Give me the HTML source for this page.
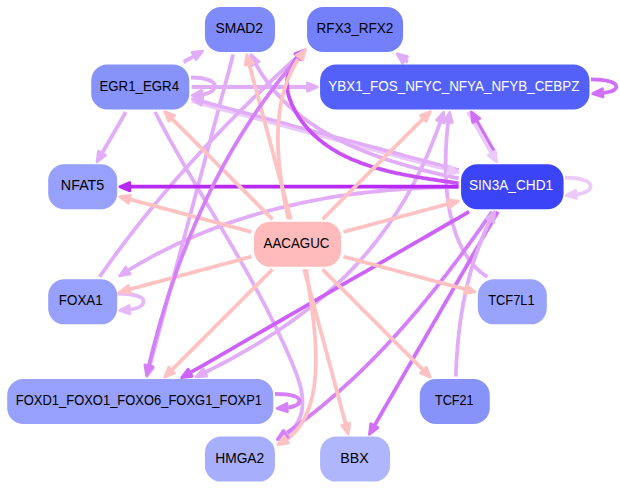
<!DOCTYPE html>
<html><head><meta charset="utf-8"><style>
html,body{margin:0;padding:0;background:#fff;width:620px;height:489px;overflow:hidden}
svg{display:block}
text{font-family:"Liberation Sans",sans-serif;font-size:14px}
</style></head><body>
<svg width="620" height="489" viewBox="0 0 620 489">
<rect width="620" height="489" fill="#fff"/>
<path d="M191.7,87.0 L192.7,87.0 L199.2,87.0 L205.8,87.0 L212.3,87.0 L218.9,87.0 L225.4,87.0 L232.0,87.0 L238.5,87.0 L245.1,87.0 L251.6,87.0 L258.2,87.0 L264.7,87.0 L271.3,87.0 L277.8,87.0 L284.4,87.0 L290.9,87.0 L297.5,87.0 L304.1,87.0 L310.6,87.0 L311.7,87.0" fill="none" stroke="#e2adf8" stroke-width="3.8" stroke-linejoin="round"/>
<path d="M183.5,62.0 L183.9,61.9 L185.9,60.7 L188.0,59.5 L190.1,58.3 L192.2,57.1 L194.2,55.9 L196.3,54.7 L197.7,53.8" fill="none" stroke="#e2adf8" stroke-width="3.8" stroke-linejoin="round"/>
<path d="M125.8,112.0 L124.7,114.0 L123.5,116.1 L122.3,118.2 L121.1,120.3 L119.9,122.4 L118.7,124.4 L117.5,126.5 L116.3,128.6 L115.1,130.7 L113.9,132.7 L112.7,134.8 L111.5,136.9 L110.3,139.0 L109.1,141.0 L107.9,143.1 L106.7,145.2 L105.5,147.3 L104.3,149.4 L103.1,151.4 L101.9,153.5 L100.7,155.6 L99.9,157.0" fill="none" stroke="#e2adf8" stroke-width="3.8" stroke-linejoin="round"/>
<path d="M233.2,54.5 L231.6,60.5 L229.6,68.2 L227.5,76.0 L225.4,83.7 L223.3,91.5 L221.2,99.2 L219.2,107.0 L217.1,114.7 L215.0,122.5 L212.9,130.3 L210.9,138.0 L208.8,145.8 L206.7,153.5 L204.6,161.3 L202.6,169.0 L200.5,176.8 L198.4,184.5 L196.3,192.3 L194.2,200.0 L192.2,207.8 L190.1,215.5 L188.0,223.3 L185.9,231.0 L183.9,238.8 L181.8,246.5 L179.7,254.3 L177.6,262.0 L175.6,269.8 L173.5,277.5 L171.4,285.3 L169.3,293.0 L167.2,300.8 L165.2,308.5 L163.1,316.3 L161.0,324.0 L158.9,331.8 L156.9,339.5 L154.8,347.3 L152.7,355.1 L150.6,362.8 L148.5,370.6 L148.4,370.9" fill="none" stroke="#e2adf8" stroke-width="3.8" stroke-linejoin="round"/>
<path d="M191.7,101.3 L194.8,102.1 L200.4,103.6 L206.1,105.1 L211.7,106.7 L217.4,108.2 L223.1,109.7 L228.7,111.2 L234.4,112.7 L240.0,114.2 L245.7,115.7 L251.3,117.3 L257.0,118.8 L262.7,120.3 L268.3,121.8 L274.0,123.3 L279.6,124.8 L285.3,126.3 L290.9,127.9 L296.6,129.4 L302.3,130.9 L307.9,132.4 L313.6,133.9 L319.2,135.4 L324.9,136.9 L330.6,138.5 L336.2,140.0 L341.9,141.5 L347.5,143.0 L353.2,144.5 L358.9,146.0 L364.5,147.6 L370.2,149.1 L375.8,150.6 L381.5,152.1 L387.1,153.6 L392.8,155.1 L398.5,156.6 L404.1,158.2 L409.8,159.7 L415.4,161.2 L421.1,162.7 L426.8,164.2 L432.4,165.7 L438.1,167.2 L443.7,168.8 L449.4,170.3 L452.6,171.1" fill="none" stroke="#ecc9fb" stroke-width="3.6" stroke-linejoin="round"/>
<path d="M458.6,170.0 L455.6,169.2 L450.0,167.7 L444.3,166.2 L438.7,164.6 L433.0,163.1 L427.4,161.6 L421.7,160.1 L416.0,158.6 L410.4,157.1 L404.7,155.6 L399.1,154.0 L393.4,152.5 L387.7,151.0 L382.1,149.5 L376.4,148.0 L370.8,146.5 L365.1,145.0 L359.4,143.4 L353.8,141.9 L348.1,140.4 L342.5,138.9 L336.8,137.4 L331.2,135.9 L325.5,134.3 L319.8,132.8 L314.2,131.3 L308.5,129.8 L302.9,128.3 L297.2,126.8 L291.6,125.3 L285.9,123.7 L280.2,122.2 L274.6,120.7 L268.9,119.2 L263.3,117.7 L257.6,116.2 L251.9,114.7 L246.3,113.1 L240.6,111.6 L235.0,110.1 L229.3,108.6 L223.6,107.1 L218.0,105.6 L212.3,104.1 L206.7,102.5 L201.0,101.0 L197.8,100.2" fill="none" stroke="#e2adf8" stroke-width="3.4" stroke-linejoin="round"/>
<path d="M407.9,62.0 L407.5,61.8 L406.9,61.3 L406.2,60.8 L405.6,60.3 L405.0,59.9 L404.4,59.4 L403.8,58.9 L403.1,58.4 L402.5,58.0 L401.9,57.5 L401.7,57.4" fill="none" stroke="#e2adf8" stroke-width="3.8" stroke-linejoin="round"/>
<path d="M495.5,153.9 L494.6,152.4 L493.4,150.3 L492.2,148.2 L491.0,146.2 L489.8,144.1 L488.6,142.0 L487.4,139.9 L486.2,137.8 L485.0,135.8 L483.9,133.7 L482.7,131.6 L481.5,129.5 L480.3,127.4 L479.1,125.3 L477.9,123.2 L476.7,121.2 L475.5,119.1 L474.3,117.0 L474.2,116.8" fill="none" stroke="#d070f8" stroke-width="3.8" stroke-linejoin="round"/>
<path d="M468.0,112.0 L468.1,112.2 L469.3,114.3 L470.5,116.4 L471.7,118.5 L472.9,120.6 L474.1,122.7 L475.3,124.8 L476.5,126.8 L477.7,128.9 L478.9,131.0 L480.1,133.1 L481.3,135.2 L482.4,137.2 L483.6,139.3 L484.8,141.4 L486.0,143.5 L487.2,145.6 L488.4,147.7 L489.6,149.8 L490.8,151.8 L492.0,153.9 L493.2,156.0 L493.8,157.0" fill="none" stroke="#ecc9fb" stroke-width="3.8" stroke-linejoin="round"/>
<path d="M458.6,178.4 L457.9,178.2 L454.9,177.6 L451.8,176.9 L448.7,176.2 L445.6,175.5 L442.5,174.8 L439.4,174.1 L436.3,173.4 L433.2,172.6 L430.1,171.9 L427.0,171.1 L423.9,170.3 L420.7,169.5 L417.6,168.7 L414.5,167.8 L411.4,167.0 L408.3,166.1 L405.2,165.2 L402.1,164.3 L399.0,163.4 L395.9,162.4 L392.8,161.5 L389.7,160.5 L386.6,159.5 L383.6,158.4 L380.5,157.4 L377.4,156.3 L374.4,155.2 L371.4,154.1 L368.4,152.9 L365.4,151.8 L362.4,150.6 L359.4,149.3 L356.4,148.1 L353.5,146.8 L350.6,145.5 L347.7,144.2 L344.8,142.8 L341.9,141.4 L339.1,140.0 L336.2,138.5 L333.4,137.0 L330.6,135.5 L327.9,134.0 L325.1,132.4 L322.4,130.8 L319.7,129.1 L317.0,127.4 L314.4,125.7 L311.8,124.0 L309.2,122.2 L306.6,120.3 L304.1,118.5 L301.6,116.6 L299.1,114.6 L296.7,112.7 L294.3,110.7 L291.9,108.6 L289.6,106.5 L287.3,104.4 L285.0,102.2 L282.8,100.0 L280.6,97.7 L278.5,95.4 L276.4,93.1 L274.3,90.7 L272.3,88.2 L270.3,85.8 L268.3,83.2 L266.4,80.7 L264.5,78.0 L262.7,75.4 L260.9,72.7 L259.2,69.9 L257.5,67.1 L255.9,64.2 L254.3,61.3 L253.5,59.8" fill="none" stroke="#e2adf8" stroke-width="3.8" stroke-linejoin="round"/>
<path d="M458.6,187.1 L456.5,187.1 L452.0,187.2 L447.5,187.2 L443.0,187.3 L438.4,187.4 L433.9,187.5 L429.4,187.7 L424.9,187.9 L420.4,188.1 L415.9,188.3 L411.4,188.6 L406.9,188.8 L402.4,189.1 L397.9,189.5 L393.4,189.8 L388.9,190.2 L384.4,190.6 L379.9,191.0 L375.4,191.5 L370.9,191.9 L366.4,192.4 L362.0,193.0 L357.5,193.5 L353.0,194.1 L348.6,194.7 L344.1,195.4 L339.6,196.0 L335.2,196.7 L330.7,197.4 L326.3,198.2 L321.9,199.0 L317.4,199.8 L313.0,200.6 L308.6,201.5 L304.2,202.4 L299.8,203.3 L295.4,204.3 L291.0,205.3 L286.7,206.3 L282.3,207.3 L277.9,208.4 L273.6,209.5 L269.3,210.7 L264.9,211.8 L260.6,213.0 L256.3,214.3 L252.0,215.6 L247.7,216.9 L243.4,218.2 L239.2,219.6 L234.9,221.0 L230.7,222.4 L226.4,223.9 L222.2,225.4 L218.0,226.9 L213.8,228.5 L209.6,230.1 L205.4,231.8 L201.3,233.4 L197.1,235.2 L193.0,236.9 L188.9,238.7 L184.8,240.5 L180.7,242.4 L176.6,244.3 L172.5,246.2 L168.5,248.2 L164.4,250.2 L160.4,252.2 L156.4,254.3 L152.4,256.4 L148.5,258.6 L144.5,260.8 L140.6,263.0 L136.6,265.3 L132.7,267.6 L128.9,270.0 L125.0,272.4 L124.4,272.8" fill="none" stroke="#e2adf8" stroke-width="3.8" stroke-linejoin="round"/>
<path d="M487.2,276.9 L487.2,276.9 L485.4,275.6 L483.6,274.4 L482.0,273.1 L480.3,271.7 L478.7,270.3 L477.2,268.8 L475.7,267.3 L474.2,265.8 L472.8,264.2 L471.4,262.5 L470.1,260.8 L468.8,259.1 L467.5,257.3 L466.3,255.5 L465.2,253.6 L464.0,251.7 L463.0,249.8 L461.9,247.8 L460.9,245.8 L459.9,243.8 L459.0,241.7 L458.1,239.6 L457.2,237.5 L456.4,235.4 L455.6,233.2 L454.9,231.0 L454.2,228.8 L453.5,226.5 L452.8,224.2 L452.2,222.0 L451.6,219.6 L451.1,217.3 L450.5,215.0 L450.0,212.6 L449.6,210.2 L449.1,207.8 L448.7,205.4 L448.4,203.0 L448.0,200.6 L447.7,198.2 L447.4,195.7 L447.1,193.3 L446.9,190.8 L446.6,188.4 L446.4,185.9 L446.3,183.5 L446.1,181.0 L446.0,178.5 L445.9,176.1 L445.8,173.6 L445.7,171.2 L445.7,168.7 L445.6,166.3 L445.6,163.9 L445.6,161.5 L445.7,159.1 L445.7,156.7 L445.8,154.3 L445.9,151.9 L445.9,149.6 L446.1,147.2 L446.2,144.9 L446.3,142.6 L446.5,140.4 L446.6,138.1 L446.8,135.9 L447.0,133.7 L447.2,131.5 L447.4,129.3 L447.6,127.2 L447.9,125.1 L448.1,123.0 L448.4,121.0 L448.6,119.0 L448.8,117.9" fill="none" stroke="#e2adf8" stroke-width="3.8" stroke-linejoin="round"/>
<path d="M441.8,117.5 L441.1,119.5 L439.4,124.5 L437.6,129.3 L435.8,134.2 L434.0,138.9 L432.1,143.6 L430.2,148.3 L428.3,152.9 L426.3,157.4 L424.2,161.9 L422.2,166.4 L420.1,170.8 L417.9,175.1 L415.8,179.4 L413.6,183.6 L411.3,187.8 L409.0,192.0 L406.7,196.1 L404.4,200.1 L402.0,204.1 L399.5,208.1 L397.0,212.0 L394.5,215.9 L392.0,219.7 L389.4,223.5 L386.8,227.2 L384.1,230.9 L381.4,234.5 L378.7,238.2 L375.9,241.7 L373.1,245.2 L370.3,248.7 L367.4,252.2 L364.5,255.6 L361.5,259.0 L358.5,262.3 L355.5,265.6 L352.4,268.9 L349.3,272.1 L346.2,275.3 L343.0,278.4 L339.8,281.5 L336.5,284.6 L333.2,287.7 L329.9,290.7 L326.5,293.7 L323.1,296.6 L319.6,299.6 L316.1,302.5 L312.6,305.3 L309.1,308.2 L305.5,311.0 L301.8,313.7 L298.1,316.5 L294.4,319.2 L290.7,321.9 L286.9,324.6 L283.0,327.2 L279.2,329.9 L275.3,332.5 L271.3,335.0 L267.3,337.6 L263.3,340.1 L259.3,342.6 L255.2,345.1 L251.0,347.6 L246.8,350.0 L242.6,352.4 L238.4,354.9 L234.1,357.2 L229.7,359.6 L225.4,362.0 L221.0,364.3 L216.5,366.6 L212.0,368.9 L207.5,371.2 L202.9,373.5 L201.3,374.3" fill="none" stroke="#e2adf8" stroke-width="3.8" stroke-linejoin="round"/>
<path d="M99.6,276.9 L101.7,273.8 L104.0,270.6 L106.2,267.5 L108.5,264.3 L110.7,261.2 L113.0,258.0 L115.3,254.9 L117.6,251.8 L119.9,248.7 L122.2,245.6 L124.6,242.5 L126.9,239.4 L129.3,236.3 L131.7,233.3 L134.0,230.2 L136.4,227.1 L138.8,224.1 L141.2,221.1 L143.6,218.0 L146.1,215.0 L148.5,212.0 L151.0,209.0 L153.4,206.0 L155.9,203.1 L158.4,200.1 L160.8,197.1 L163.3,194.2 L165.8,191.2 L168.4,188.3 L170.9,185.3 L173.4,182.4 L175.9,179.5 L178.5,176.6 L181.1,173.7 L183.6,170.8 L186.2,167.9 L188.8,165.0 L191.4,162.1 L194.0,159.3 L196.6,156.4 L199.2,153.6 L201.8,150.7 L204.5,147.9 L207.1,145.1 L209.8,142.3 L212.4,139.4 L215.1,136.6 L217.8,133.9 L220.5,131.1 L223.1,128.3 L225.8,125.5 L228.5,122.7 L231.3,120.0 L234.0,117.2 L236.7,114.5 L239.4,111.7 L242.2,109.0 L244.9,106.3 L247.7,103.6 L250.5,100.9 L253.2,98.2 L256.0,95.5 L258.8,92.8 L261.6,90.1 L264.4,87.4 L267.2,84.7 L270.0,82.1 L272.8,79.4 L275.6,76.8 L278.4,74.1 L281.3,71.5 L284.1,68.8 L286.9,66.2 L289.8,63.6 L292.6,61.0 L295.5,58.4 L298.4,55.8 L300.8,53.6" fill="none" stroke="#e2adf8" stroke-width="3.8" stroke-linejoin="round"/>
<path d="M155.1,112.0 L156.2,114.2 L157.8,117.2 L159.3,120.2 L160.9,123.2 L162.5,126.1 L164.1,129.1 L165.7,132.0 L167.3,135.0 L168.9,137.9 L170.5,140.9 L172.2,143.8 L173.8,146.7 L175.4,149.6 L177.1,152.5 L178.7,155.4 L180.4,158.3 L182.0,161.2 L183.7,164.1 L185.4,167.0 L187.0,169.9 L188.7,172.7 L190.4,175.6 L192.1,178.5 L193.8,181.3 L195.4,184.2 L197.1,187.1 L198.8,189.9 L200.5,192.8 L202.2,195.6 L203.9,198.5 L205.6,201.3 L207.3,204.2 L209.0,207.0 L210.7,209.9 L212.4,212.8 L214.1,215.6 L215.8,218.5 L217.4,221.3 L219.1,224.2 L220.8,227.0 L222.5,229.9 L224.2,232.7 L225.9,235.6 L227.6,238.4 L229.2,241.3 L230.9,244.2 L232.6,247.0 L234.3,249.9 L235.9,252.8 L237.6,255.7 L239.2,258.5 L240.9,261.4 L242.5,264.3 L244.2,267.2 L245.8,270.1 L247.4,273.0 L249.1,275.9 L250.7,278.9 L252.3,281.8 L253.9,284.7 L255.5,287.6 L257.1,290.6 L258.7,293.5 L260.2,296.5 L261.8,299.4 L263.4,302.4 L264.9,305.4 L266.5,308.4 L268.0,311.4 L269.5,314.4 L271.0,317.4 L272.5,320.4 L274.0,323.4 L275.5,326.5 L277.0,329.5 L278.4,332.6 L279.9,335.7 L281.3,338.8 L282.8,341.8 L284.2,344.9 L285.6,348.1 L287.0,351.2 L288.4,354.3 L289.7,357.5 L291.1,360.6 L292.4,363.8 L293.7,367.0 L295.0,370.2 L296.2,373.4 L297.3,376.6 L298.4,379.8 L299.4,382.9 L300.3,386.1 L301.0,389.3 L301.6,392.4 L302.1,395.6 L302.4,398.7 L302.5,401.8 L302.5,404.8 L302.3,407.8 L301.8,410.8 L301.2,413.8 L300.2,416.7 L299.1,419.5 L297.7,422.3 L296.0,425.0 L294.1,427.6 L291.8,430.2 L289.3,432.6 L286.5,434.9 L283.4,437.0" fill="none" stroke="#e2adf8" stroke-width="3.8" stroke-linejoin="round"/>
<path d="M458.6,186.7 L449.7,186.7 L440.7,186.7 L431.8,186.7 L422.8,186.7 L413.9,186.7 L404.9,186.7 L396.0,186.7 L387.0,186.7 L378.1,186.7 L369.1,186.7 L360.2,186.7 L351.2,186.7 L342.3,186.7 L333.3,186.7 L324.4,186.7 L315.4,186.7 L306.5,186.7 L297.5,186.7 L288.5,186.7 L279.6,186.7 L270.6,186.7 L261.7,186.7 L252.7,186.7 L243.8,186.7 L234.8,186.7 L225.9,186.7 L216.9,186.7 L208.0,186.7 L199.0,186.7 L190.1,186.7 L181.1,186.7 L172.2,186.7 L163.2,186.7 L154.3,186.7 L145.3,186.7 L136.4,186.7 L127.4,186.7 L125.6,186.7" fill="none" stroke="#b62af4" stroke-width="3.8" stroke-linejoin="round"/>
<path d="M469.0,211.7 L465.8,213.6 L458.1,218.1 L450.3,222.5 L442.6,227.0 L434.8,231.5 L427.1,236.0 L419.3,240.4 L411.5,244.9 L403.8,249.4 L396.0,253.9 L388.3,258.3 L380.5,262.8 L372.8,267.3 L365.0,271.8 L357.3,276.2 L349.5,280.7 L341.8,285.2 L334.0,289.7 L326.3,294.1 L318.5,298.6 L310.8,303.1 L303.0,307.6 L295.3,312.1 L287.5,316.5 L279.8,321.0 L272.0,325.5 L264.3,330.0 L256.5,334.4 L248.8,338.9 L241.0,343.4 L233.3,347.9 L225.5,352.3 L217.8,356.8 L210.0,361.3 L202.3,365.8 L194.5,370.2 L186.8,374.7 L186.5,374.9" fill="none" stroke="#cd62f8" stroke-width="3.8" stroke-linejoin="round"/>
<path d="M497.9,211.7 L495.9,215.1 L492.7,220.8 L489.4,226.5 L486.1,232.1 L482.8,237.8 L479.6,243.5 L476.3,249.2 L473.0,254.8 L469.7,260.5 L466.5,266.2 L463.2,271.9 L459.9,277.5 L456.6,283.2 L453.3,288.9 L450.1,294.6 L446.8,300.2 L443.5,305.9 L440.2,311.6 L437.0,317.3 L433.7,322.9 L430.4,328.6 L427.1,334.3 L423.9,340.0 L420.6,345.6 L417.3,351.3 L414.0,357.0 L410.8,362.7 L407.5,368.3 L404.2,374.0 L400.9,379.7 L397.7,385.4 L394.4,391.0 L391.1,396.7 L387.8,402.4 L384.5,408.0 L381.3,413.7 L378.0,419.4 L374.7,425.1 L372.3,429.3" fill="none" stroke="#d070f8" stroke-width="3.8" stroke-linejoin="round"/>
<path d="M492.1,211.7 L491.7,212.3 L489.4,215.6 L487.1,218.9 L484.7,222.2 L482.4,225.5 L480.1,228.8 L477.7,232.1 L475.4,235.4 L473.0,238.6 L470.7,241.9 L468.3,245.1 L465.9,248.4 L463.5,251.6 L461.2,254.9 L458.8,258.1 L456.3,261.3 L453.9,264.5 L451.5,267.7 L449.1,270.9 L446.6,274.1 L444.2,277.2 L441.7,280.4 L439.2,283.5 L436.8,286.7 L434.3,289.8 L431.8,292.9 L429.2,296.0 L426.7,299.1 L424.2,302.2 L421.6,305.3 L419.1,308.4 L416.5,311.4 L413.9,314.5 L411.3,317.5 L408.7,320.5 L406.1,323.5 L403.5,326.5 L400.8,329.5 L398.2,332.5 L395.5,335.4 L392.8,338.4 L390.1,341.3 L387.4,344.2 L384.7,347.1 L381.9,350.0 L379.1,352.9 L376.4,355.7 L373.6,358.6 L370.8,361.4 L368.0,364.2 L365.1,367.0 L362.3,369.8 L359.4,372.6 L356.5,375.4 L353.6,378.1 L350.7,380.8 L347.8,383.5 L344.8,386.2 L341.8,388.9 L338.9,391.6 L335.8,394.2 L332.8,396.8 L329.8,399.4 L326.7,402.0 L323.6,404.6 L320.5,407.2 L317.4,409.7 L314.3,412.2 L311.1,414.7 L307.9,417.2 L304.7,419.7 L301.5,422.1 L298.3,424.6 L295.0,427.0 L291.7,429.4 L288.4,431.7 L285.1,434.1 L281.9,436.3" fill="none" stroke="#d580f8" stroke-width="3.8" stroke-linejoin="round"/>
<path d="M458.6,183.3 L457.0,183.1 L454.9,182.8 L452.9,182.5 L450.8,182.2 L448.7,181.9 L446.7,181.6 L444.6,181.3 L442.5,181.0 L440.4,180.7 L438.3,180.4 L436.1,180.0 L434.0,179.7 L431.9,179.4 L429.7,179.1 L427.6,178.7 L425.5,178.4 L423.3,178.1 L421.1,177.7 L419.0,177.4 L416.8,177.0 L414.7,176.6 L412.5,176.2 L410.3,175.8 L408.2,175.4 L406.0,175.0 L403.8,174.6 L401.7,174.2 L399.5,173.7 L397.4,173.3 L395.2,172.8 L393.1,172.3 L390.9,171.8 L388.8,171.3 L386.6,170.8 L384.5,170.2 L382.4,169.7 L380.3,169.1 L378.1,168.5 L376.0,167.9 L373.9,167.3 L371.9,166.7 L369.8,166.0 L367.7,165.3 L365.6,164.6 L363.6,163.9 L361.6,163.2 L359.5,162.4 L357.5,161.6 L355.5,160.8 L353.5,160.0 L351.6,159.2 L349.6,158.3 L347.7,157.4 L345.7,156.5 L343.8,155.5 L341.9,154.6 L340.1,153.6 L338.2,152.6 L336.4,151.5 L334.5,150.4 L332.7,149.3 L330.9,148.2 L329.2,147.0 L327.4,145.9 L325.7,144.6 L324.0,143.4 L322.3,142.1 L320.7,140.8 L319.0,139.5 L317.4,138.1 L315.9,136.7 L314.3,135.3 L312.8,133.8 L311.3,132.3 L309.8,130.7 L308.3,129.2 L306.9,127.6 L305.5,125.9 L304.1,124.2 L302.8,122.5 L301.5,120.8 L300.2,119.0 L299.0,117.1 L297.7,115.3 L296.6,113.4 L295.4,111.4 L294.4,109.5 L293.4,107.5 L292.4,105.5 L291.5,103.5 L290.7,101.4 L289.9,99.4 L289.2,97.3 L288.6,95.2 L288.1,93.1 L287.7,91.0 L287.4,88.9 L287.1,86.8 L287.0,84.7 L287.0,82.6 L287.1,80.5 L287.3,78.5 L287.7,76.4 L288.1,74.3 L288.7,72.3 L289.5,70.3 L290.3,68.3 L291.3,66.3 L292.4,64.4 L293.6,62.5 L294.9,60.7 L296.2,58.9 L297.6,57.1 L299.1,55.4 L300.6,53.8 L300.8,53.7" fill="none" stroke="#c850f8" stroke-width="3.8" stroke-linejoin="round"/>
<path d="M455.9,376.6 L455.9,374.6 L456.0,372.4 L456.1,370.2 L456.2,368.0 L456.3,365.8 L456.4,363.6 L456.5,361.4 L456.6,359.2 L456.8,357.0 L456.9,354.8 L457.1,352.6 L457.3,350.4 L457.4,348.2 L457.6,346.0 L457.8,343.8 L458.0,341.6 L458.2,339.4 L458.5,337.2 L458.7,335.0 L458.9,332.8 L459.2,330.6 L459.5,328.4 L459.7,326.2 L460.0,324.0 L460.3,321.8 L460.6,319.7 L461.0,317.5 L461.3,315.3 L461.6,313.1 L462.0,311.0 L462.4,308.8 L462.8,306.6 L463.1,304.4 L463.5,302.3 L464.0,300.1 L464.4,298.0 L464.8,295.8 L465.3,293.7 L465.8,291.5 L466.2,289.4 L466.7,287.2 L467.2,285.1 L467.7,282.9 L468.3,280.8 L468.8,278.7 L469.4,276.5 L470.0,274.4 L470.5,272.3 L471.1,270.2 L471.7,268.1 L472.4,266.0 L473.0,263.9 L473.7,261.8 L474.3,259.7 L475.0,257.6 L475.7,255.5 L476.4,253.4 L477.2,251.4 L477.9,249.3 L478.6,247.2 L479.4,245.2 L480.2,243.1 L481.0,241.0 L481.8,239.0 L482.7,237.0 L483.5,234.9 L484.4,232.9 L485.2,230.9 L486.1,228.9 L487.1,226.8 L488.0,224.8 L488.9,222.8 L489.9,220.8 L490.9,218.9 L491.9,216.9 L492.0,216.7" fill="none" stroke="#e2adf8" stroke-width="3.8" stroke-linejoin="round"/>
<path d="M191.0,77.5 C205.3,77.5 214.8,80.9 214.8,86.0 C214.8,91.0 208.0,94.3 197.2,94.9" fill="none" stroke="#e2adf8" stroke-width="3.8"/>
<path d="M591.0,79.4 C606.2,79.4 616.3,82.3 616.3,86.7 C616.3,90.4 608.6,92.8 597.5,93.3" fill="none" stroke="#d070f8" stroke-width="3.8"/>
<path d="M565.0,177.7 C580.4,177.7 590.6,181.1 590.6,186.3 C590.6,191.1 582.7,194.3 571.2,194.9" fill="none" stroke="#ecc9fb" stroke-width="3.8"/>
<path d="M117.5,293.5 C133.2,293.5 143.6,296.6 143.6,301.3 C143.6,306.3 136.0,309.6 124.7,310.1" fill="none" stroke="#e6b9f9" stroke-width="3.8"/>
<path d="M275.0,393.8 C289.7,393.8 299.5,396.6 299.5,400.9 C299.5,404.9 292.3,407.6 281.6,408.1" fill="none" stroke="#d580f8" stroke-width="3.8"/>
<path d="M272.5,219.3 L271.3,218.1 L268.0,214.8 L264.7,211.5 L261.5,208.3 L258.2,205.0 L254.9,201.7 L251.6,198.4 L248.4,195.2 L245.1,191.9 L241.8,188.6 L238.5,185.3 L235.3,182.1 L232.0,178.8 L228.7,175.5 L225.4,172.2 L222.1,168.9 L218.9,165.7 L215.6,162.4 L212.3,159.1 L209.0,155.8 L205.8,152.6 L202.5,149.3 L199.2,146.0 L195.9,142.7 L192.7,139.5 L189.4,136.2 L186.1,132.9 L182.8,129.6 L179.6,126.4 L176.3,123.1 L173.0,119.8 L169.7,116.5 L168.7,115.5" fill="none" stroke="#ffc2c2" stroke-width="3.8" stroke-linejoin="round"/>
<path d="M290.8,219.3 L290.3,217.4 L289.1,213.0 L287.9,208.5 L286.7,204.0 L285.5,199.5 L284.3,195.1 L283.1,190.6 L281.9,186.1 L280.7,181.6 L279.5,177.2 L278.3,172.7 L277.1,168.2 L275.9,163.7 L274.7,159.3 L273.5,154.8 L272.3,150.3 L271.1,145.8 L269.9,141.4 L268.7,136.9 L267.5,132.4 L266.3,127.9 L265.1,123.5 L263.9,119.0 L262.7,114.5 L261.5,110.0 L260.3,105.6 L259.1,101.1 L257.9,96.6 L256.7,92.1 L255.5,87.7 L254.3,83.2 L253.1,78.7 L251.9,74.2 L250.7,69.8 L249.5,65.3 L248.3,60.8 L248.1,60.1" fill="none" stroke="#ffc2c2" stroke-width="3.8" stroke-linejoin="round"/>
<path d="M322.5,219.3 L323.7,218.1 L327.0,214.8 L330.3,211.5 L333.5,208.3 L336.8,205.0 L340.1,201.7 L343.4,198.4 L346.6,195.2 L349.9,191.9 L353.2,188.6 L356.5,185.3 L359.7,182.1 L363.0,178.8 L366.3,175.5 L369.6,172.2 L372.9,168.9 L376.1,165.7 L379.4,162.4 L382.7,159.1 L386.0,155.8 L389.2,152.6 L392.5,149.3 L395.8,146.0 L399.1,142.7 L402.3,139.5 L405.6,136.2 L408.9,132.9 L412.2,129.6 L415.4,126.4 L418.7,123.1 L422.0,119.8 L425.3,116.5 L426.3,115.5" fill="none" stroke="#ffc2c2" stroke-width="3.8" stroke-linejoin="round"/>
<path d="M343.5,232.0 L346.7,231.1 L351.2,229.9 L355.7,228.7 L360.2,227.5 L364.6,226.3 L369.1,225.1 L373.6,223.9 L378.1,222.7 L382.5,221.5 L387.0,220.3 L391.5,219.1 L396.0,217.9 L400.4,216.7 L404.9,215.5 L409.4,214.3 L413.9,213.1 L418.3,211.9 L422.8,210.7 L427.3,209.5 L431.8,208.3 L436.2,207.1 L440.7,205.9 L445.2,204.7 L449.7,203.5 L453.0,202.6" fill="none" stroke="#ffc2c2" stroke-width="3.8" stroke-linejoin="round"/>
<path d="M251.5,232.0 L248.3,231.1 L243.8,229.9 L239.3,228.7 L234.8,227.5 L230.4,226.3 L225.9,225.1 L221.4,223.9 L216.9,222.7 L212.5,221.5 L208.0,220.3 L203.5,219.1 L199.0,217.9 L194.6,216.7 L190.1,215.5 L185.6,214.3 L181.1,213.1 L176.7,211.9 L172.2,210.7 L167.7,209.5 L163.2,208.3 L158.8,207.1 L154.3,205.9 L149.8,204.7 L145.3,203.5 L140.9,202.3 L136.4,201.1 L131.9,199.9 L127.4,198.7 L125.3,198.2" fill="none" stroke="#ffc2c2" stroke-width="3.8" stroke-linejoin="round"/>
<path d="M251.5,256.6 L248.3,257.5 L243.8,258.7 L239.3,259.9 L234.8,261.1 L230.4,262.3 L225.9,263.5 L221.4,264.7 L216.9,265.9 L212.5,267.1 L208.0,268.3 L203.5,269.5 L199.0,270.7 L194.6,271.9 L190.1,273.1 L185.6,274.3 L181.1,275.5 L176.7,276.7 L172.2,277.9 L167.7,279.1 L163.2,280.3 L158.8,281.5 L154.3,282.7 L149.8,283.9 L145.3,285.1 L140.9,286.3 L136.4,287.5 L131.9,288.7 L127.4,289.9 L125.3,290.4" fill="none" stroke="#ffc2c2" stroke-width="3.8" stroke-linejoin="round"/>
<path d="M272.5,269.3 L271.3,270.5 L268.0,273.8 L264.7,277.1 L261.5,280.3 L258.2,283.6 L254.9,286.9 L251.6,290.2 L248.4,293.4 L245.1,296.7 L241.8,300.0 L238.5,303.3 L235.3,306.5 L232.0,309.8 L228.7,313.1 L225.4,316.4 L222.1,319.7 L218.9,322.9 L215.6,326.2 L212.3,329.5 L209.0,332.8 L205.8,336.0 L202.5,339.3 L199.2,342.6 L195.9,345.9 L192.7,349.1 L189.4,352.4 L186.1,355.7 L182.8,359.0 L179.6,362.2 L176.3,365.5 L173.0,368.8 L169.7,372.1 L168.7,373.1" fill="none" stroke="#ffc2c2" stroke-width="3.8" stroke-linejoin="round"/>
<path d="M343.5,256.6 L346.7,257.5 L351.2,258.7 L355.7,259.9 L360.2,261.1 L364.6,262.3 L369.1,263.5 L373.6,264.7 L378.1,265.9 L382.5,267.1 L387.0,268.3 L391.5,269.5 L396.0,270.7 L400.4,271.9 L404.9,273.1 L409.4,274.3 L413.9,275.5 L418.3,276.7 L422.8,277.9 L427.3,279.1 L431.8,280.3 L436.2,281.5 L440.7,282.7 L445.2,283.9 L449.7,285.1 L454.1,286.3 L458.6,287.5 L463.1,288.7 L467.6,289.9 L469.7,290.4" fill="none" stroke="#ffc2c2" stroke-width="3.8" stroke-linejoin="round"/>
<path d="M322.5,269.3 L323.7,270.5 L327.0,273.8 L330.3,277.1 L333.5,280.3 L336.8,283.6 L340.1,286.9 L343.4,290.2 L346.6,293.4 L349.9,296.7 L353.2,300.0 L356.5,303.3 L359.7,306.5 L363.0,309.8 L366.3,313.1 L369.6,316.4 L372.9,319.7 L376.1,322.9 L379.4,326.2 L382.7,329.5 L386.0,332.8 L389.2,336.0 L392.5,339.3 L395.8,342.6 L399.1,345.9 L402.3,349.1 L405.6,352.4 L408.9,355.7 L412.2,359.0 L415.4,362.2 L418.7,365.5 L422.0,368.8 L425.3,372.1 L426.3,373.1" fill="none" stroke="#ffc2c2" stroke-width="3.8" stroke-linejoin="round"/>
<path d="M304.2,269.3 L304.7,271.2 L305.9,275.6 L307.1,280.1 L308.3,284.6 L309.5,289.1 L310.7,293.5 L311.9,298.0 L313.1,302.5 L314.3,307.0 L315.5,311.4 L316.7,315.9 L317.9,320.4 L319.1,324.9 L320.3,329.3 L321.5,333.8 L322.7,338.3 L323.9,342.8 L325.1,347.2 L326.3,351.7 L327.5,356.2 L328.7,360.7 L329.9,365.1 L331.1,369.6 L332.3,374.1 L333.5,378.6 L334.7,383.0 L335.9,387.5 L337.1,392.0 L338.3,396.5 L339.5,400.9 L340.7,405.4 L341.9,409.9 L343.1,414.4 L344.3,418.8 L345.5,423.3 L346.7,427.8 L346.9,428.5" fill="none" stroke="#ffc2c2" stroke-width="3.8" stroke-linejoin="round"/>
<path d="M306.3,269.3 L306.5,270.8 L306.7,272.7 L307.0,274.7 L307.3,276.8 L307.6,278.8 L307.9,281.0 L308.3,283.1 L308.6,285.4 L308.9,287.6 L309.3,289.9 L309.6,292.2 L309.9,294.6 L310.3,296.9 L310.6,299.3 L311.0,301.8 L311.3,304.2 L311.7,306.7 L312.0,309.3 L312.3,311.8 L312.7,314.3 L313.0,316.9 L313.3,319.5 L313.6,322.1 L313.8,324.7 L314.1,327.4 L314.4,330.0 L314.6,332.7 L314.8,335.4 L315.0,338.0 L315.2,340.7 L315.4,343.4 L315.5,346.1 L315.6,348.7 L315.7,351.4 L315.8,354.1 L315.9,356.8 L315.9,359.4 L315.9,362.1 L315.8,364.8 L315.7,367.4 L315.6,370.0 L315.5,372.7 L315.3,375.3 L315.1,377.8 L314.8,380.4 L314.6,383.0 L314.2,385.5 L313.9,388.0 L313.4,390.5 L313.0,392.9 L312.5,395.4 L311.9,397.8 L311.3,400.1 L310.7,402.5 L310.0,404.8 L309.3,407.0 L308.5,409.3 L307.6,411.5 L306.7,413.6 L305.8,415.7 L304.7,417.8 L303.7,419.8 L302.5,421.8 L301.3,423.7 L300.1,425.6 L298.8,427.4 L297.4,429.2 L295.9,431.0 L294.4,432.6 L292.8,434.2 L291.2,435.8 L289.4,437.3 L287.6,438.7 L285.8,440.1 L283.8,441.4 L282.7,442.1" fill="none" stroke="#ffc2c2" stroke-width="3.8" stroke-linejoin="round"/>
<path d="M304.8,50.4 L303.8,51.4 L300.7,54.9 L297.6,58.4 L294.6,61.9 L291.5,65.5 L288.6,69.0 L285.6,72.6 L282.7,76.2 L279.8,79.8 L276.9,83.5 L274.1,87.2 L271.3,90.9 L268.5,94.6 L265.8,98.3 L263.1,102.1 L260.4,105.9 L257.7,109.7 L255.1,113.5 L252.5,117.3 L250.0,121.2 L247.5,125.1 L245.0,129.0 L242.5,132.9 L240.1,136.8 L237.7,140.8 L235.3,144.7 L232.9,148.7 L230.6,152.7 L228.3,156.7 L226.1,160.8 L223.8,164.8 L221.6,168.9 L219.5,173.0 L217.3,177.1 L215.2,181.2 L213.1,185.3 L211.0,189.5 L209.0,193.7 L207.0,197.8 L205.0,202.0 L203.1,206.2 L201.1,210.4 L199.2,214.7 L197.4,218.9 L195.5,223.2 L193.7,227.4 L191.9,231.7 L190.1,236.0 L188.4,240.3 L186.7,244.6 L185.0,249.0 L183.3,253.3 L181.6,257.6 L180.0,262.0 L178.4,266.4 L176.8,270.7 L175.3,275.1 L173.8,279.5 L172.3,283.9 L170.8,288.3 L169.3,292.8 L167.9,297.2 L166.5,301.6 L165.1,306.1 L163.8,310.5 L162.4,315.0 L161.1,319.5 L159.8,323.9 L158.6,328.4 L157.3,332.9 L156.1,337.4 L154.9,341.9 L153.7,346.4 L152.5,350.9 L151.4,355.4 L150.3,359.9 L149.2,364.4 L148.1,368.9 L147.9,369.8" fill="none" stroke="#d580f8" stroke-width="3.8" stroke-linejoin="round"/>
<path d="M288.4,219.3 L288.4,219.1 L288.1,217.7 L287.8,216.3 L287.5,214.8 L287.2,213.4 L286.9,211.9 L286.6,210.5 L286.3,209.0 L286.0,207.5 L285.7,206.1 L285.4,204.6 L285.1,203.1 L284.8,201.6 L284.5,200.1 L284.2,198.7 L284.0,197.2 L283.7,195.7 L283.4,194.2 L283.2,192.7 L282.9,191.1 L282.7,189.6 L282.4,188.1 L282.2,186.6 L281.9,185.1 L281.7,183.6 L281.5,182.0 L281.2,180.5 L281.0,179.0 L280.8,177.4 L280.6,175.9 L280.4,174.4 L280.2,172.8 L280.0,171.3 L279.9,169.8 L279.7,168.2 L279.5,166.7 L279.4,165.1 L279.2,163.6 L279.1,162.1 L278.9,160.5 L278.8,159.0 L278.7,157.4 L278.6,155.9 L278.5,154.3 L278.4,152.8 L278.3,151.2 L278.2,149.7 L278.1,148.1 L278.1,146.6 L278.0,145.1 L278.0,143.5 L278.0,142.0 L277.9,140.4 L277.9,138.9 L277.9,137.4 L277.9,135.8 L278.0,134.3 L278.0,132.8 L278.0,131.2 L278.1,129.7 L278.1,128.2 L278.2,126.6 L278.3,125.1 L278.4,123.6 L278.5,122.1 L278.7,120.6 L278.8,119.0 L278.9,117.5 L279.1,116.0 L279.3,114.5 L279.5,113.0 L279.7,111.5 L279.9,110.0 L280.1,108.5 L280.3,107.0 L280.6,105.6 L280.9,104.1 L281.2,102.6 L281.5,101.1 L281.8,99.7 L282.1,98.2 L282.4,96.8 L282.8,95.3 L283.2,93.9 L283.6,92.4 L284.0,91.0 L284.4,89.6 L284.8,88.1 L285.3,86.7 L285.7,85.3 L286.2,83.9 L286.7,82.5 L287.2,81.1 L287.8,79.7 L288.3,78.3 L288.9,76.9 L289.5,75.6 L290.1,74.2 L290.7,72.8 L291.4,71.5 L292.0,70.1 L292.7,68.8 L293.4,67.5 L294.1,66.2 L294.8,64.8 L295.6,63.5 L296.4,62.2 L297.2,60.9 L298.0,59.7 L298.8,58.4 L299.7,57.1 L300.5,55.9 L301.4,54.6 L301.8,54.0" fill="none" stroke="#ffc2c2" stroke-width="3.8" stroke-linejoin="round"/>
<polygon points="317.46,87.04 307.36,91.24 307.36,82.84" fill="#e2adf8" stroke="#e2adf8" stroke-width="2.6" stroke-linejoin="round"/>
<polygon points="202.76,50.94 196.12,59.63 191.92,52.36" fill="#e2adf8" stroke="#e2adf8" stroke-width="2.6" stroke-linejoin="round"/>
<polygon points="96.97,161.99 98.38,151.14 105.66,155.34" fill="#e2adf8" stroke="#e2adf8" stroke-width="2.6" stroke-linejoin="round"/>
<polygon points="146.94,376.55 145.50,365.71 153.61,367.88" fill="#e2adf8" stroke="#e2adf8" stroke-width="2.6" stroke-linejoin="round"/>
<polygon points="458.19,172.63 447.35,174.07 449.52,165.96" fill="#ecc9fb" stroke="#ecc9fb" stroke-width="2.6" stroke-linejoin="round"/>
<polygon points="192.21,98.67 203.05,97.23 200.88,105.34" fill="#e2adf8" stroke="#e2adf8" stroke-width="2.6" stroke-linejoin="round"/>
<polygon points="397.07,53.87 407.66,56.61 402.59,63.31" fill="#e2adf8" stroke="#e2adf8" stroke-width="2.6" stroke-linejoin="round"/>
<polygon points="471.28,111.79 479.95,118.46 472.67,122.64" fill="#d070f8" stroke="#d070f8" stroke-width="2.6" stroke-linejoin="round"/>
<polygon points="496.67,161.99 488.00,155.32 495.28,151.14" fill="#ecc9fb" stroke="#ecc9fb" stroke-width="2.6" stroke-linejoin="round"/>
<polygon points="250.98,54.61 259.32,61.69 251.84,65.52" fill="#e2adf8" stroke="#e2adf8" stroke-width="2.6" stroke-linejoin="round"/>
<polygon points="119.50,275.91 125.79,266.97 130.28,274.07" fill="#e2adf8" stroke="#e2adf8" stroke-width="2.6" stroke-linejoin="round"/>
<polygon points="449.64,112.12 452.41,122.70 444.09,121.54" fill="#e2adf8" stroke="#e2adf8" stroke-width="2.6" stroke-linejoin="round"/>
<polygon points="196.03,376.85 203.25,368.64 206.95,376.18" fill="#e2adf8" stroke="#e2adf8" stroke-width="2.6" stroke-linejoin="round"/>
<polygon points="443.65,112.00 444.40,122.92 436.44,120.22" fill="#e2adf8" stroke="#e2adf8" stroke-width="2.6" stroke-linejoin="round"/>
<polygon points="305.07,49.74 300.38,59.62 294.76,53.38" fill="#e2adf8" stroke="#e2adf8" stroke-width="2.6" stroke-linejoin="round"/>
<polygon points="278.22,439.65 284.64,430.79 289.03,437.96" fill="#e2adf8" stroke="#e2adf8" stroke-width="2.6" stroke-linejoin="round"/>
<polygon points="119.78,186.74 129.88,182.54 129.88,190.94" fill="#b62af4" stroke="#b62af4" stroke-width="2.6" stroke-linejoin="round"/>
<polygon points="181.46,377.76 188.11,369.07 192.31,376.35" fill="#cd62f8" stroke="#cd62f8" stroke-width="2.6" stroke-linejoin="round"/>
<polygon points="369.35,434.37 370.76,423.52 378.04,427.72" fill="#d070f8" stroke="#d070f8" stroke-width="2.6" stroke-linejoin="round"/>
<polygon points="277.14,439.53 283.08,430.34 287.84,437.26" fill="#d580f8" stroke="#d580f8" stroke-width="2.6" stroke-linejoin="round"/>
<polygon points="305.15,49.83 300.94,59.92 295.02,53.96" fill="#c850f8" stroke="#c850f8" stroke-width="2.6" stroke-linejoin="round"/>
<polygon points="494.68,211.55 493.81,222.46 486.33,218.62" fill="#e2adf8" stroke="#e2adf8" stroke-width="2.6" stroke-linejoin="round"/>
<polygon points="192.09,95.44 201.72,90.26 202.55,98.62" fill="#e2adf8" stroke="#e2adf8" stroke-width="2.6" stroke-linejoin="round"/>
<polygon points="592.69,93.77 602.37,88.68 603.12,97.05" fill="#d070f8" stroke="#d070f8" stroke-width="2.6" stroke-linejoin="round"/>
<polygon points="566.09,195.44 575.72,190.26 576.55,198.62" fill="#ecc9fb" stroke="#ecc9fb" stroke-width="2.6" stroke-linejoin="round"/>
<polygon points="119.59,310.50 129.33,305.52 129.99,313.89" fill="#e6b9f9" stroke="#e6b9f9" stroke-width="2.6" stroke-linejoin="round"/>
<polygon points="277.09,408.40 286.84,403.44 287.48,411.81" fill="#d580f8" stroke="#d580f8" stroke-width="2.6" stroke-linejoin="round"/>
<polygon points="164.58,111.38 174.69,115.55 168.75,121.49" fill="#ffc2c2" stroke="#ffc2c2" stroke-width="2.6" stroke-linejoin="round"/>
<polygon points="246.64,54.49 253.31,63.16 245.20,65.33" fill="#ffc2c2" stroke="#ffc2c2" stroke-width="2.6" stroke-linejoin="round"/>
<polygon points="430.42,111.38 426.25,121.49 420.31,115.55" fill="#ffc2c2" stroke="#ffc2c2" stroke-width="2.6" stroke-linejoin="round"/>
<polygon points="458.56,201.15 449.89,207.82 447.72,199.70" fill="#ffc2c2" stroke="#ffc2c2" stroke-width="2.6" stroke-linejoin="round"/>
<polygon points="119.69,196.66 130.53,195.21 128.36,203.33" fill="#ffc2c2" stroke="#ffc2c2" stroke-width="2.6" stroke-linejoin="round"/>
<polygon points="119.69,291.94 128.36,285.27 130.53,293.39" fill="#ffc2c2" stroke="#ffc2c2" stroke-width="2.6" stroke-linejoin="round"/>
<polygon points="164.58,377.22 168.75,367.11 174.69,373.05" fill="#ffc2c2" stroke="#ffc2c2" stroke-width="2.6" stroke-linejoin="round"/>
<polygon points="475.31,291.94 464.47,293.39 466.64,285.27" fill="#ffc2c2" stroke="#ffc2c2" stroke-width="2.6" stroke-linejoin="round"/>
<polygon points="430.42,377.22 420.31,373.05 426.25,367.11" fill="#ffc2c2" stroke="#ffc2c2" stroke-width="2.6" stroke-linejoin="round"/>
<polygon points="348.36,434.11 341.69,425.44 349.80,423.27" fill="#ffc2c2" stroke="#ffc2c2" stroke-width="2.6" stroke-linejoin="round"/>
<polygon points="277.54,444.69 284.15,435.97 288.38,443.22" fill="#ffc2c2" stroke="#ffc2c2" stroke-width="2.6" stroke-linejoin="round"/>
<polygon points="146.59,375.47 144.80,364.68 152.98,366.59" fill="#d580f8" stroke="#d580f8" stroke-width="2.6" stroke-linejoin="round"/>
<polygon points="305.50,49.54 302.77,60.13 296.06,55.08" fill="#ffc2c2" stroke="#ffc2c2" stroke-width="2.6" stroke-linejoin="round"/>
<rect x="204.94" y="6.98" width="70" height="45" rx="16" ry="16" fill="#7f8bfa"/>
<text x="239.24" y="32.98" fill="#000" text-anchor="middle" textLength="47.5" lengthAdjust="spacingAndGlyphs">SMAD2</text>
<rect x="307.06" y="6.98" width="96" height="45" rx="16" ry="16" fill="#7380fa"/>
<text x="354.96" y="32.98" fill="#000" text-anchor="middle" textLength="76.76" lengthAdjust="spacingAndGlyphs">RFX3_RFX2</text>
<rect x="91.24" y="64.54" width="98" height="45" rx="16" ry="16" fill="#8893fa"/>
<text x="139.24" y="90.54" fill="#000" text-anchor="middle" textLength="79.63" lengthAdjust="spacingAndGlyphs">EGR1_EGR4</text>
<rect x="320.06" y="64.54" width="269.4" height="45" rx="16" ry="16" fill="#5461f8"/>
<text x="453.86" y="90.54" fill="#fff" text-anchor="middle" textLength="251.13" lengthAdjust="spacingAndGlyphs">YBX1_FOS_NFYC_NFYA_NFYB_CEBPZ</text>
<rect x="48.18" y="164.24" width="69" height="45" rx="16" ry="16" fill="#97a0fb"/>
<text x="82.58" y="190.24" fill="#000" text-anchor="middle" textLength="43.4" lengthAdjust="spacingAndGlyphs">NFAT5</text>
<rect x="461.07" y="164.24" width="102.5" height="45" rx="16" ry="16" fill="#3b44f6"/>
<text x="511.02" y="190.24" fill="#fff" text-anchor="middle" textLength="84.17" lengthAdjust="spacingAndGlyphs">SIN3A_CHD1</text>
<rect x="254" y="221.8" width="87" height="45" rx="16" ry="16" fill="#ffbbbb"/>
<text x="296.5" y="247.8" fill="#000" text-anchor="middle" textLength="66.03" lengthAdjust="spacingAndGlyphs">AACAGUC</text>
<rect x="48.18" y="279.36" width="69" height="45" rx="16" ry="16" fill="#97a0fb"/>
<text x="80.78" y="305.36" fill="#000" text-anchor="middle" textLength="43.9" lengthAdjust="spacingAndGlyphs">FOXA1</text>
<rect x="477.82" y="279.36" width="69" height="45" rx="16" ry="16" fill="#9aa3fb"/>
<text x="511.42" y="305.36" fill="#000" text-anchor="middle" textLength="46.5" lengthAdjust="spacingAndGlyphs">TCF7L1</text>
<rect x="7.24" y="379.06" width="266" height="45" rx="16" ry="16" fill="#97a0fb"/>
<text x="138.94" y="405.06" fill="#000" text-anchor="middle" textLength="246.2" lengthAdjust="spacingAndGlyphs">FOXD1_FOXO1_FOXO6_FOXG1_FOXP1</text>
<rect x="419.76" y="379.06" width="70" height="45" rx="16" ry="16" fill="#8893fa"/>
<text x="454.26" y="405.06" fill="#000" text-anchor="middle" textLength="38.6" lengthAdjust="spacingAndGlyphs">TCF21</text>
<rect x="204.94" y="436.62" width="70" height="45" rx="16" ry="16" fill="#a7aefc"/>
<text x="239.74" y="462.62" fill="#000" text-anchor="middle" textLength="48.99" lengthAdjust="spacingAndGlyphs">HMGA2</text>
<rect x="320.06" y="436.62" width="70" height="45" rx="16" ry="16" fill="#b0b6fc"/>
<text x="354.46" y="462.62" fill="#000" text-anchor="middle" textLength="28.41" lengthAdjust="spacingAndGlyphs">BBX</text>
</svg></body></html>
